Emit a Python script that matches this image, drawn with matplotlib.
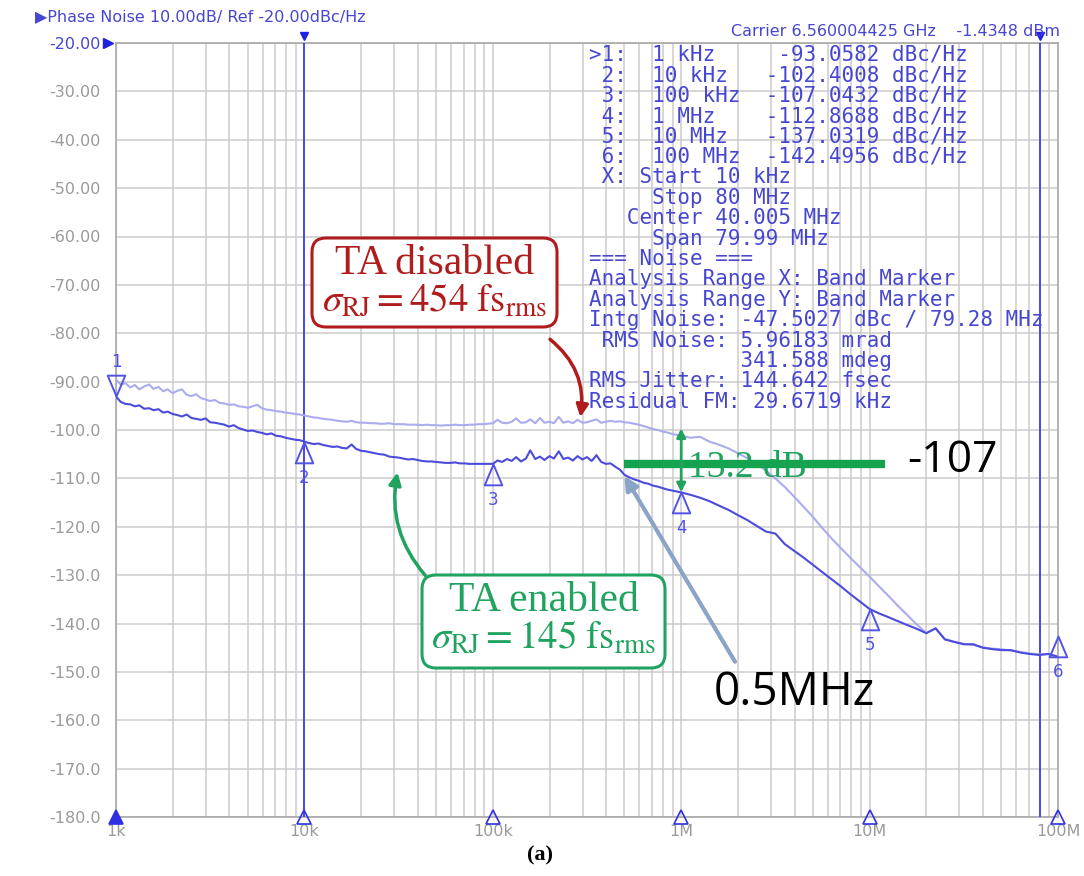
import matplotlib
matplotlib.use("Agg")
import matplotlib.pyplot as plt
from matplotlib.path import Path
from matplotlib.patches import FancyArrowPatch, FancyBboxPatch
from matplotlib.transforms import IdentityTransform
from matplotlib.ticker import FixedLocator, LogLocator, NullFormatter

plt.rcParams['mathtext.fontset'] = 'stix'

# ---------------------------------------------------------------- data
freq_hz = [
    1.00e3, 1.06e3, 1.12e3, 1.19e3, 1.26e3, 1.33e3, 1.41e3, 1.50e3, 1.58e3, 1.68e3,
    1.78e3, 1.88e3, 2.00e3, 2.11e3, 2.24e3, 2.37e3, 2.51e3, 2.66e3, 2.82e3, 2.99e3,
    3.16e3, 3.35e3, 3.55e3, 3.76e3, 3.98e3, 4.22e3, 4.47e3, 4.73e3, 5.01e3, 5.31e3,
    5.62e3, 5.96e3, 6.31e3, 6.68e3, 7.08e3, 7.50e3, 7.94e3, 8.41e3, 8.91e3, 9.44e3,
    1.00e4, 1.06e4, 1.12e4, 1.19e4, 1.26e4, 1.33e4, 1.41e4, 1.50e4, 1.58e4, 1.68e4,
    1.78e4, 1.88e4, 2.00e4, 2.11e4, 2.24e4, 2.37e4, 2.51e4, 2.66e4, 2.82e4, 2.99e4,
    3.16e4, 3.35e4, 3.55e4, 3.76e4, 3.98e4, 4.22e4, 4.47e4, 4.73e4, 5.01e4, 5.31e4,
    5.62e4, 5.96e4, 6.31e4, 6.68e4, 7.08e4, 7.50e4, 7.94e4, 8.41e4, 8.91e4, 9.44e4,
    1.00e5, 1.06e5, 1.12e5, 1.19e5, 1.26e5, 1.33e5, 1.41e5, 1.50e5, 1.58e5, 1.68e5,
    1.78e5, 1.88e5, 2.00e5, 2.11e5, 2.24e5, 2.37e5, 2.51e5, 2.66e5, 2.82e5, 2.99e5,
    3.16e5, 3.35e5, 3.55e5, 3.76e5, 3.98e5, 4.22e5, 4.47e5, 4.73e5, 5.01e5, 5.31e5,
    5.62e5, 5.96e5, 6.31e5, 6.68e5, 7.08e5, 7.50e5, 7.94e5, 8.41e5, 8.91e5, 9.44e5,
    1.00e6, 1.12e6, 1.26e6, 1.41e6, 1.58e6, 1.78e6, 2.00e6, 2.24e6, 2.51e6, 2.82e6,
    3.16e6, 3.55e6, 3.98e6, 4.47e6, 5.01e6, 5.62e6, 6.31e6, 7.08e6, 7.94e6, 8.91e6,
    1.00e7, 1.12e7, 1.26e7, 1.41e7, 1.58e7, 1.78e7, 2.00e7, 2.24e7, 2.51e7, 2.82e7,
    3.16e7, 3.55e7, 3.98e7, 4.47e7, 5.01e7, 5.62e7, 6.31e7, 7.08e7, 7.94e7, 8.91e7,
    1.00e8,
]

# phase noise, dBc/Hz, TA enabled
pn_ta_enabled = [
    -93.1, -94.2, -94.6, -94.7, -95.1, -94.9, -95.6, -95.5, -95.9, -95.7,
    -96.4, -96.2, -96.7, -96.9, -97.2, -96.8, -97.5, -97.7, -97.9, -97.6,
    -98.4, -98.5, -98.7, -98.9, -99.3, -99.0, -99.6, -99.9, -100.2, -100.1,
    -100.4, -100.6, -100.9, -100.7, -101.2, -101.3, -101.6, -101.8, -102.0, -102.1,
    -102.4, -102.7, -102.9, -102.8, -103.1, -103.3, -103.5, -103.4, -103.7, -103.8,
    -103.0, -103.9, -104.3, -104.4, -104.6, -104.8, -105.0, -105.1, -105.5, -105.6,
    -105.7, -105.9, -106.1, -106.0, -106.2, -106.4, -106.5, -106.5, -106.6, -106.7,
    -106.8, -106.8, -106.7, -106.9, -106.9, -107.0, -107.0, -107.0, -107.0, -107.0,
    -107.0, -106.3, -106.6, -106.0, -106.4, -105.6, -106.5, -105.9, -104.2, -106.0,
    -105.5, -106.2, -105.4, -105.9, -104.4, -106.0, -105.7, -106.3, -105.4, -106.1,
    -105.6, -106.4, -105.2, -106.6, -107.0, -106.9, -107.6, -108.2, -109.3, -109.8,
    -110.2, -110.5, -110.9, -111.1, -111.5, -111.7, -112.0, -112.3, -112.5, -112.7,
    -112.9, -113.4, -114.0, -114.7, -115.6, -116.5, -117.6, -118.6, -119.8, -121.0,
    -121.4, -123.6, -125.0, -126.4, -127.9, -129.4, -130.9, -132.4, -134.0, -135.5,
    -137.0, -137.9, -138.7, -139.5, -140.3, -141.1, -142.0, -141.0, -143.3, -143.8,
    -144.3, -144.3, -145.0, -145.3, -145.5, -145.5, -146.0, -146.3, -146.5, -146.3,
    -146.9,
]

# phase noise, dBc/Hz, TA disabled
pn_ta_disabled = [
    -89.6, -90.6, -90.3, -91.2, -90.7, -91.6, -91.0, -90.6, -91.5, -91.1,
    -92.0, -91.6, -92.4, -91.9, -91.6, -92.7, -93.0, -92.6, -93.4, -93.7,
    -94.0, -93.8, -94.4, -94.5, -94.8, -94.7, -95.1, -95.2, -95.4, -95.1,
    -94.8, -95.5, -95.8, -95.9, -96.1, -96.2, -96.4, -96.5, -96.7, -96.8,
    -97.0, -97.2, -97.4, -97.5, -97.7, -97.8, -97.9, -98.1, -98.2, -98.3,
    -98.1, -98.4, -98.5, -98.5, -98.6, -98.6, -98.7, -98.7, -98.6, -98.8,
    -98.8, -98.8, -98.9, -98.9, -98.9, -99.0, -98.9, -99.0, -99.0, -99.1,
    -99.0, -99.0, -98.9, -99.0, -99.0, -98.9, -98.9, -98.8, -98.8, -98.7,
    -98.6, -97.9, -98.5, -98.6, -98.3, -97.6, -98.5, -98.4, -97.8, -98.6,
    -97.5, -98.5, -98.3, -98.6, -97.3, -98.5, -98.2, -98.6, -97.9, -98.5,
    -98.4, -98.1, -97.8, -98.5, -98.3, -98.1, -98.3, -98.2, -98.4, -98.5,
    -98.7, -98.9, -99.2, -99.5, -99.8, -100.0, -100.3, -100.5, -100.8, -101.0,
    -101.2, -101.6, -101.4, -102.4, -103.0, -103.8, -104.8, -105.8, -107.0, -108.4,
    -110.0, -111.8, -113.8, -115.9, -118.0, -120.3, -122.5, -124.5, -126.5, -128.4,
    -130.3, -132.3, -134.3, -136.3, -138.2, -140.2, -142.0, -141.0, -143.2, -143.8,
    -144.2, -144.4, -144.9, -145.2, -145.3, -145.6, -145.9, -146.2, -146.4, -146.3,
    -146.8,
]

marker_ids = ['1', '2', '3', '4', '5', '6']
marker_freq_hz = [1e3, 1e4, 1e5, 1e6, 1e7, 1e8]
marker_freq_text = ['1 kHz', '10 kHz', '100 kHz', '1 MHz', '10 MHz', '100 MHz']
marker_dbc = [-93.0582, -102.4008, -107.0432, -112.8688, -137.0319, -142.4956]

band_start_hz = 10e3
band_stop_hz = 80e6

x_ticks = [1e3, 1e4, 1e5, 1e6, 1e7, 1e8]
x_tick_labels = ['1k', '10k', '100k', '1M', '10M', '100M']
y_ticks = list(range(-20, -181, -10))

threshold_dbc = -107
threshold_span_hz = [0.5e6, 12e6]
corner_hz = 0.5e6
corner_dbc = -109.5
gap_db = 13.2
jitter_disabled_fs = 454
jitter_enabled_fs = 145

info_lines = [
    " X: Start 10 kHz",
    "     Stop 80 MHz",
    "   Center 40.005 MHz",
    "     Span 79.99 MHz",
    "=== Noise ===",
    "Analysis Range X: Band Marker",
    "Analysis Range Y: Band Marker",
    "Intg Noise: -47.5027 dBc / 79.28 MHz",
    " RMS Noise: 5.96183 mrad",
    "            341.588 mdeg",
    "RMS Jitter: 144.642 fsec",
    "Residual FM: 29.6719 kHz",
]

# ---------------------------------------------------------------- style
W, H = 1084, 876
TRACE_DARK = '#4b4bdc'
TRACE_LIGHT = '#ababf0'
MARK_BLUE = '#5252e4'
LINE_BLUE = '#3c3cf0'
TEXT_BLUE = '#4646d0'
GRID = '#cbcbcb'
LABEL_GREY = '#9a9a9a'
RED = '#b01c1c'
GREEN = '#1fa35f'
STEEL = '#8aa4c8'


def fx(px):
    return px / W


def fy(py):
    return 1 - py / H


fig = plt.figure(figsize=(W / 100, H / 100), dpi=100)
ax = fig.add_axes([fx(116), fy(817), (1058 - 116) / W, (817 - 43) / H])
ax.set_xscale('log')
ax.set_xlim(1e3, 1e8)
ax.set_ylim(-180, -20)

ax.xaxis.set_major_locator(FixedLocator(x_ticks))
ax.xaxis.set_minor_locator(LogLocator(base=10, subs=[2, 3, 4, 5, 6, 7, 8, 9]))
ax.xaxis.set_minor_formatter(NullFormatter())
ax.set_xticklabels(x_tick_labels)
ax.set_yticks(y_ticks)
ax.set_yticklabels([f"{v:.2f}" if v > -100 else f"{v:.1f}" for v in y_ticks])
ax.tick_params(axis='both', which='both', length=0, colors=LABEL_GREY, labelsize=11.5)
ax.tick_params(axis='y', pad=11)
ax.tick_params(axis='x', pad=5)
ax.get_yticklabels()[0].set_color(TEXT_BLUE)
ax.grid(which='both', color=GRID, lw=1.1)
for sp in ax.spines.values():
    sp.set_color('#a8a8a8')
    sp.set_linewidth(1.2)

# reference level arrow beside the top label
ax.plot([10 ** (3 - 8 / 188.4)], [-20], marker='>', ms=7, color='#2020e0', clip_on=False, zorder=6)

# band marker lines
for f in (band_start_hz, band_stop_hz):
    ax.axvline(f, color=LINE_BLUE, lw=1.3, zorder=3)
    ax.plot([f], [-18.6], marker='v', ms=6, color='#2020e0', clip_on=False, zorder=6)

# traces
ax.plot(freq_hz, pn_ta_disabled, color=TRACE_LIGHT, lw=1.5, zorder=4)
ax.plot(freq_hz, pn_ta_enabled, color=TRACE_DARK, lw=1.5, zorder=5)

# markers: triangle with the tip on the measured point
tri_up = Path([(0, 0), (0.42, -1), (-0.42, -1), (0, 0)],
              [Path.MOVETO, Path.LINETO, Path.LINETO, Path.CLOSEPOLY])
tri_dn = Path([(0, 0), (0.42, 1), (-0.42, 1), (0, 0)],
              [Path.MOVETO, Path.LINETO, Path.LINETO, Path.CLOSEPOLY])
for i, (mid, f, v) in enumerate(zip(marker_ids, marker_freq_hz, marker_dbc)):
    shape = tri_dn if i == 0 else tri_up
    ax.plot([f], [v], marker=shape, ms=30, mfc='none', mec=MARK_BLUE, mew=1.4,
            ls='none', clip_on=False, zorder=7)
    dy = 25 if i == 0 else -26
    ax.annotate(mid, (f, v), xytext=(0, dy), textcoords='offset points',
                ha='center', va='center', color=MARK_BLUE, fontsize=12,
                annotation_clip=False, zorder=7)

# band-marker triangles along the frequency axis
for i, f in enumerate(x_ticks):
    ax.plot([f], [-180], marker='^', ms=10, mec='#3030e0', mew=1.2,
            mfc='#3030e0' if i == 0 else 'none', ls='none', clip_on=False, zorder=8)

# ---------------------------------------------------------------- header texts
fig.text(fx(35), fy(17), "\u25B6Phase Noise 10.00dB/ Ref -20.00dBc/Hz", color=TEXT_BLUE,
         fontsize=11.5, ha='left', va='center', family='DejaVu Sans')
fig.text(fx(1060), fy(32), "Carrier 6.560004425 GHz    -1.4348 dBm", color=TEXT_BLUE,
         fontsize=11.5, ha='right', va='center', family='DejaVu Sans')

table_lines = []
for i, (mid, ft, v) in enumerate(zip(marker_ids, marker_freq_text, marker_dbc)):
    lead = '>' if i == 0 else ' '
    table_lines.append(f"{lead}{mid}:  {ft:<9}{v:9.4f} dBc/Hz")
table_lines += info_lines
for k, line in enumerate(table_lines):
    fig.text(fx(589), fy(55 + k * 20.4), line, color=TEXT_BLUE, fontsize=15,
             family='DejaVu Sans Mono', ha='left', va='center', zorder=9)

# ---------------------------------------------------------------- annotations
def callout(x0, y0, x1, y1, title, subtitle, color):
    """Rounded box given in pixel coordinates (origin top-left) with two text lines."""
    box = FancyBboxPatch((x0, H - y1), x1 - x0, y1 - y0,
                         boxstyle='round,pad=0,rounding_size=14',
                         transform=IdentityTransform(), fc='white', ec=color, lw=2.2,
                         zorder=10, clip_on=False)
    ax.add_artist(box)
    xc = (x0 + x1) / 2
    fig.text(fx(xc), fy(y0 + 26), title, ha='center', va='center', color=color,
             family='Liberation Serif', fontsize=30, zorder=11)
    fig.text(fx(xc), fy(y0 + 62), subtitle, ha='center', va='center', color=color,
             fontsize=28, zorder=11)


callout(312, 238, 557, 327, "TA disabled",
        r"$\sigma_{\rm RJ}=%d\ {\rm fs}_{\rm rms}$" % jitter_disabled_fs, RED)
callout(422, 575, 665, 668, "TA enabled",
        r"$\sigma_{\rm RJ}=%d\ {\rm fs}_{\rm rms}$" % jitter_enabled_fs, GREEN)

ax.add_patch(FancyArrowPatch((196e3, -80.9), (290e3, -97.9), connectionstyle='arc3,rad=-0.3',
                             arrowstyle='-|>', mutation_scale=18, lw=2.5, color=RED, zorder=10))
ax.add_patch(FancyArrowPatch((44.8e3, -130.5), (31.4e3, -108.2), connectionstyle='arc3,rad=-0.25',
                             arrowstyle='-|>', mutation_scale=18, lw=2.5, color=GREEN, zorder=10))

# -107 threshold and the 13.2 dB gap at 1 MHz
ax.text(1.09e6, -107.8, f"{gap_db} dB", family='Liberation Serif', fontsize=27,
        color=GREEN, ha='left', va='center', zorder=9)
ax.plot(threshold_span_hz, [threshold_dbc] * 2, color='#16a34f', lw=6,
        solid_capstyle='butt', zorder=11)
ax.text(15.8e6, -106.3, f"{threshold_dbc}", family='Open Sans', fontsize=32,
        color='black', ha='left', va='center', zorder=11)
ax.add_patch(FancyArrowPatch((1e6, marker_dbc[3]), (1e6, marker_dbc[3] + gap_db),
                             arrowstyle='<|-|>', mutation_scale=13, lw=2, color=GREEN,
                             shrinkA=0, shrinkB=0, zorder=11))

# 0.5 MHz corner
ax.add_patch(FancyArrowPatch((1.93e6, -147.9), (corner_hz, corner_dbc), arrowstyle='-|>',
                             mutation_scale=20, lw=3, color=STEEL, shrinkA=0, shrinkB=0, zorder=10))
ax.text(4.0e6, -154.3, f"{corner_hz / 1e6:g}MHz", family='Open Sans', fontsize=33,
        color='black', ha='center', va='center', zorder=11)

fig.text(fx(540), fy(855), "(a)", family='Liberation Serif', fontweight='bold',
         fontsize=16, ha='center', va='center')

fig.savefig('out.png', dpi=100, facecolor='white')
